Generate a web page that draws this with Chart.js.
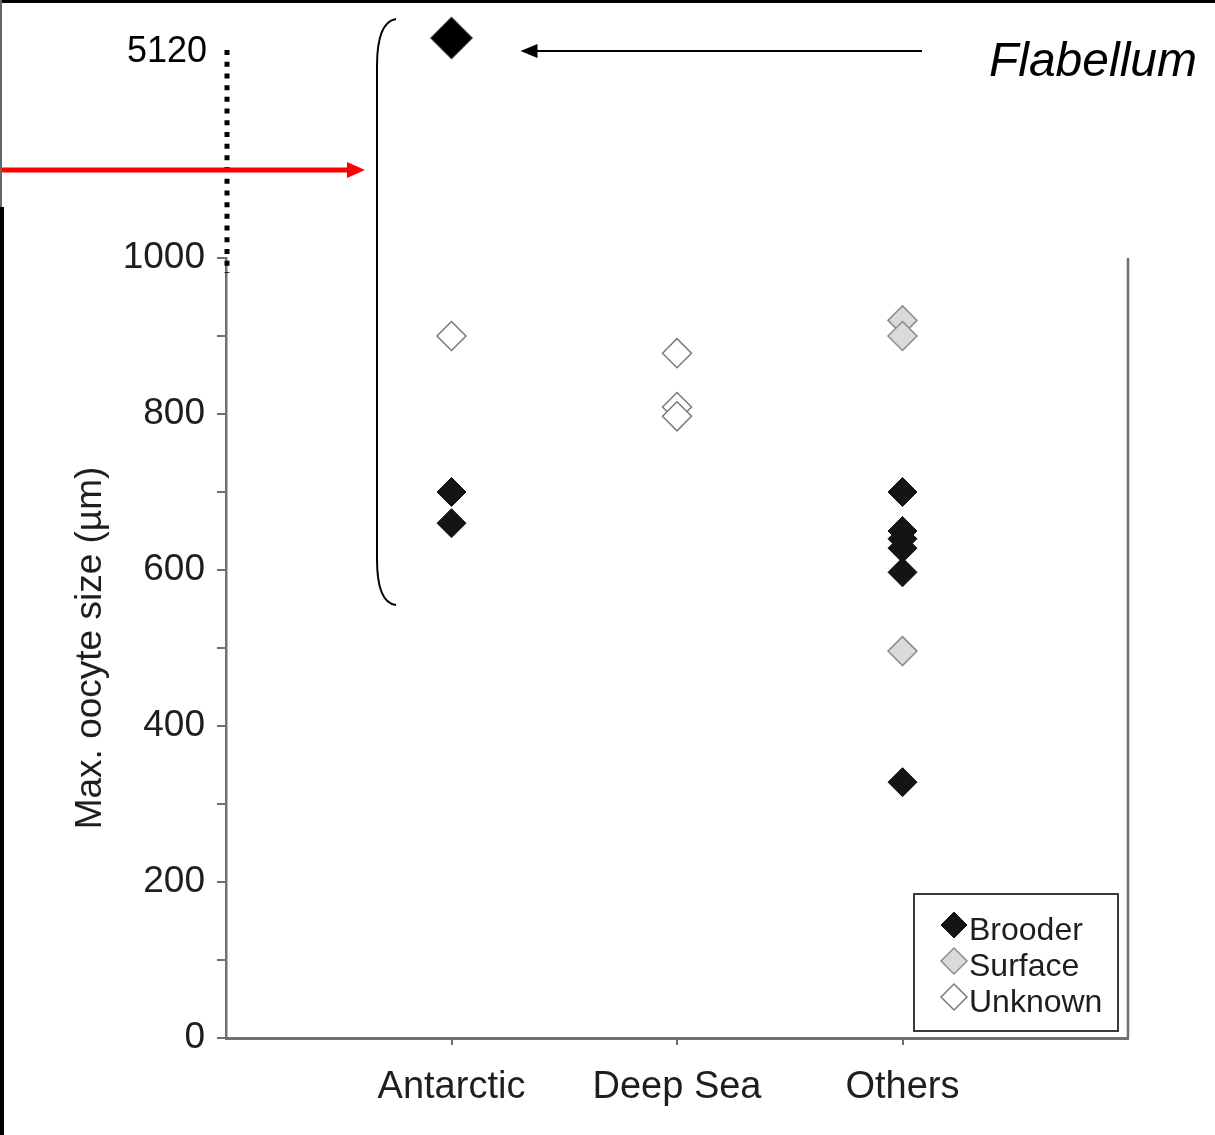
<!DOCTYPE html>
<html>
<head>
<meta charset="utf-8">
<script src="https://cdn.jsdelivr.net/npm/chart.js@4.4.1/dist/chart.umd.min.js"></script>
<style>
  html, body { margin: 0; padding: 0; background: #fff; }
  canvas { display: block; }
</style>
</head>
<body>
<canvas id="chart" width="1215" height="1135"></canvas>
<script>
// values (µm), one list per category
const categories = ['Antarctic', 'Deep Sea', 'Others'];
const brooder = [[700, 660], [], [700, 650, 640, 628, 597, 328]];
const surface = [[], [], [920, 900, 496]];
const unknown = [[900], [878, 809, 797], []];
const flabellumCategory = 'Antarctic';
const flabellumValue = 5120;
const yTickLabels = [0, 200, 400, 600, 800, 1000];

// the axis is broken above 1000: the outlier sits on a compressed stretch
const breakAt = 1000;
const breakSqueeze = 282 / (flabellumValue - breakAt);
function brokenY(v) {
  return v <= breakAt ? v : breakAt + (v - breakAt) * breakSqueeze;
}

function toPoints(series) {
  const pts = [];
  series.forEach((vals, i) => vals.forEach(v => pts.push({ x: i + 1, y: brokenY(v) })));
  return pts;
}

const FONT = "'Liberation Sans', Arial, sans-serif";
const axisGrey = '#707070';
const textDark = '#1e1e1e';

Chart.defaults.font.family = FONT;
Chart.defaults.color = textDark;

const datasets = [
  {
    label: 'Flabellum',
    data: [{ x: categories.indexOf(flabellumCategory) + 1, y: brokenY(flabellumValue) }],
    pointStyle: 'rectRot', pointRadius: 20,
    backgroundColor: '#000', borderColor: '#000', borderWidth: 1,
    clip: false, inLegend: false
  },
  {
    label: 'Brooder', data: toPoints(brooder),
    pointStyle: 'rectRot', pointRadius: 14.5,
    backgroundColor: '#141414', borderColor: '#141414', borderWidth: 1
  },
  {
    label: 'Surface', data: toPoints(surface),
    pointStyle: 'rectRot', pointRadius: 14.5,
    backgroundColor: '#dadada', borderColor: '#8c8c8c', borderWidth: 1.5
  },
  {
    label: 'Unknown', data: toPoints(unknown),
    pointStyle: 'rectRot', pointRadius: 14.5,
    backgroundColor: '#ffffff', borderColor: '#7a7a7a', borderWidth: 1.5
  }
];

const decorations = {
  id: 'decorations',
  afterDraw(chart) {
    const { ctx, chartArea: a, scales: { x, y } } = chart;
    ctx.save();

    // right frame of the plot
    ctx.strokeStyle = axisGrey;
    ctx.lineWidth = 2.5;
    ctx.beginPath();
    ctx.moveTo(a.right, a.top);
    ctx.lineTo(a.right, a.bottom);
    ctx.stroke();

    // the outlier lies above the chart area, so Chart.js skips it; draw its element here
    const flab = chart.getDatasetMeta(0).data[0];
    Chart.helpers.drawPoint(ctx, {
      pointStyle: 'rectRot', radius: 20, rotation: 0, borderWidth: 1
    }, flab.x, flab.y);
    ctx.fillStyle = '#000';
    ctx.strokeStyle = '#000';
    ctx.lineWidth = 1;
    ctx.fill();
    ctx.stroke();

    // broken part of the axis: 5120 label and dotted line
    const topY = y.getPixelForValue(brokenY(flabellumValue));
    ctx.fillStyle = '#000';
    ctx.font = '36px ' + FONT;
    ctx.textAlign = 'right';
    ctx.textBaseline = 'middle';
    ctx.fillText(String(flabellumValue), a.left - 19, topY + 14);

    ctx.setLineDash([5, 6.7]);
    ctx.lineWidth = 5;
    ctx.strokeStyle = '#000';
    ctx.beginPath();
    ctx.moveTo(a.left + 1, topY + 12);
    ctx.lineTo(a.left + 1, a.top + 15);
    ctx.stroke();
    ctx.setLineDash([]);

    // bracket around the Antarctic group
    const bx = a.left + 151;
    const bBottom = y.getPixelForValue(555);
    ctx.lineWidth = 2;
    ctx.beginPath();
    ctx.moveTo(bx + 19, 19);
    ctx.quadraticCurveTo(bx, 22, bx, 66);
    ctx.lineTo(bx, bBottom - 46);
    ctx.quadraticCurveTo(bx, bBottom - 2, bx + 19, bBottom);
    ctx.stroke();

    // red arrow pointing at the bracket
    const ry = a.top - 88;
    ctx.strokeStyle = '#ff0000';
    ctx.fillStyle = '#ff0000';
    ctx.lineWidth = 5;
    ctx.beginPath();
    ctx.moveTo(0, ry);
    ctx.lineTo(bx - 25, ry);
    ctx.stroke();
    ctx.beginPath();
    ctx.moveTo(bx - 12, ry);
    ctx.lineTo(bx - 30, ry - 8);
    ctx.lineTo(bx - 30, ry + 8);
    ctx.closePath();
    ctx.fill();

    // Flabellum label and arrow
    const fx = x.getPixelForValue(categories.indexOf(flabellumCategory) + 1);
    const ay = topY + 13;
    ctx.strokeStyle = '#000';
    ctx.fillStyle = '#000';
    ctx.lineWidth = 2;
    ctx.beginPath();
    ctx.moveTo(fx + 84, ay);
    ctx.lineTo(922, ay);
    ctx.stroke();
    ctx.beginPath();
    ctx.moveTo(fx + 69, ay);
    ctx.lineTo(fx + 86, ay - 7);
    ctx.lineTo(fx + 86, ay + 7);
    ctx.closePath();
    ctx.fill();

    ctx.font = 'italic 48px ' + FONT;
    ctx.textAlign = 'right';
    ctx.textBaseline = 'alphabetic';
    ctx.fillText('Flabellum', 1197, 76);

    // legend box inside the plot
    const lw = 204, lh = 137;
    const lx = a.right - 10 - lw, ly = a.bottom - 7 - lh;
    ctx.fillStyle = '#fff';
    ctx.fillRect(lx, ly, lw, lh);
    ctx.strokeStyle = '#3a3a3a';
    ctx.lineWidth = 2;
    ctx.strokeRect(lx, ly, lw, lh);
    ctx.font = '32px ' + FONT;
    ctx.textAlign = 'left';
    ctx.textBaseline = 'middle';
    chart.data.datasets.filter(d => d.inLegend !== false).forEach((d, i) => {
      const mx = lx + 40, my = ly + 31 + i * 36;
      ctx.fillStyle = d.backgroundColor;
      ctx.strokeStyle = d.borderColor;
      ctx.lineWidth = d.borderWidth;
      ctx.beginPath();
      ctx.moveTo(mx - 13, my);
      ctx.lineTo(mx, my - 13);
      ctx.lineTo(mx + 13, my);
      ctx.lineTo(mx, my + 13);
      ctx.closePath();
      ctx.fill();
      ctx.stroke();
      ctx.fillStyle = textDark;
      ctx.fillText(d.label, mx + 15, my + 6);
    });

    // picture frame
    ctx.fillStyle = '#000';
    ctx.fillRect(0, 0, chart.width, 3);
    ctx.fillStyle = '#666';
    ctx.fillRect(0, 0, 2, 207);
    ctx.fillStyle = '#000';
    ctx.fillRect(0, 207, 4, chart.height - 207);

    ctx.restore();
  }
};

new Chart(document.getElementById('chart'), {
  type: 'scatter',
  data: { datasets },
  options: {
    responsive: false,
    animation: false,
    layout: { padding: { top: 258, right: 87, bottom: 0, left: 0 } },
    plugins: { legend: { display: false }, tooltip: { enabled: false } },
    scales: {
      x: {
        type: 'linear', min: 0, max: categories.length + 1,
        afterBuildTicks: s => { s.ticks = categories.map((c, i) => ({ value: i + 1 })); },
        afterFit: s => { s.height = 97; },
        grid: { drawOnChartArea: false, drawTicks: true, tickLength: 7, color: axisGrey, lineWidth: 2 },
        border: { display: true, color: axisGrey, width: 3 },
        ticks: {
          padding: 20,
          font: { size: 38 },
          color: textDark,
          callback: v => categories[v - 1]
        }
      },
      y: {
        type: 'linear', min: 0, max: breakAt,
        afterFit: s => { s.width = 226; },
        grid: { drawOnChartArea: false, drawTicks: true, tickLength: 9, color: axisGrey, lineWidth: 2 },
        border: { display: true, color: axisGrey, width: 2.5 },
        ticks: {
          stepSize: 100,
          padding: 12,
          font: { size: 37 },
          color: textDark,
          callback: v => yTickLabels.includes(v) ? String(v) : ''
        },
        title: {
          display: true,
          text: 'Max. oocyte size (µm)',
          font: { size: 37 },
          color: textDark,
          padding: { top: 69, bottom: 0 }
        }
      }
    }
  },
  plugins: [decorations]
});
</script>
</body>
</html>
